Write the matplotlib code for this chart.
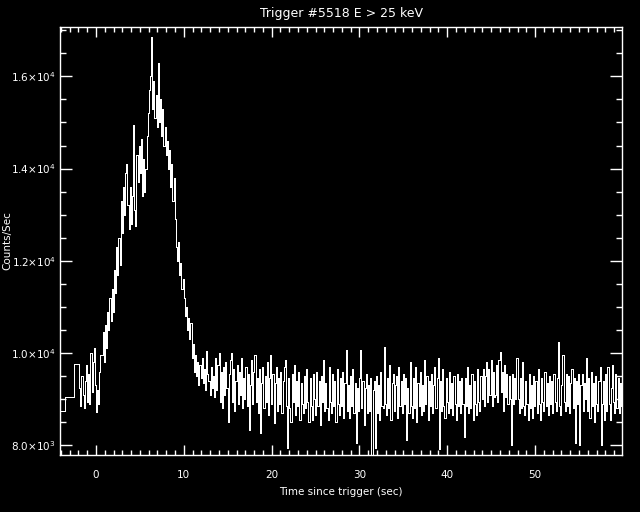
import numpy as np
import matplotlib
matplotlib.use('Agg')
import matplotlib.pyplot as plt
from matplotlib.ticker import MultipleLocator, FuncFormatter

# ----- Data -----
title = 'Trigger #5518 E > 25 keV'
x_label = 'Time since trigger (sec)'
y_label = 'Counts/Sec'

# coarse pre-trigger bins
pre_edges = [-4.10, -3.53, -2.55, -1.92]
pre_rate = [8740, 9050, 9760]

# fine bins after -1.92 s (one row = 10 bins)
bin_width = 0.128
burst_rate = [
    9250, 8850, 9500, 9100, 8800, 9400, 9750, 8950, 9550, 8900,
    10000, 9150, 9800, 10100, 9300, 8720, 9200, 8900, 9600, 9950,
    9950, 10450, 9800, 10600, 10100, 10900, 10500, 11200, 10700, 11400,
    10900, 11800, 11300, 12300, 11700, 12500, 11900, 13300, 12600, 13600,
    13000, 13900, 14100, 13200, 12700, 13600, 12800, 13400, 14950, 13100,
    12750, 14300, 13700, 14500, 13900, 14650, 13400, 14200, 13500, 14000,
    14700, 15200, 15700, 16000, 16850, 15300, 15900, 15100, 15600, 14900,
    16300, 15000, 15500, 14700, 15300, 14500, 14900, 14300, 14600, 14000,
    14400, 13600, 14100, 13300, 13800, 12900, 12300, 12000, 12400, 11700,
    11950, 11400, 11600, 11200, 10800, 11000, 10500, 10750, 10300, 10650,
    9900, 10200, 9600, 9950, 9500, 9800, 9300, 9750, 9450, 9900,
    9350, 9650, 9200, 10050, 9550, 9400, 9100, 9700, 9250, 9500,
    9050, 9900, 9200, 9750, 10000, 8950, 9600, 8800, 9700, 9100,
    9800, 9250, 8500, 9550, 9850, 10000, 8950, 9650, 8750, 9400,
    9750, 8900, 9600, 9100, 9900, 8800, 9450, 9000, 9700, 8850,
    9550, 8330, 9300, 9850, 8900, 9600, 9950, 8950, 9450, 8700,
    9650, 8270, 9350, 9700, 8800, 9500, 8950, 9800, 8650, 9450,
    9950, 8900, 9550, 8480, 9350, 9700, 8750, 9450, 8900, 9600,
    8700, 9400, 9700, 9850, 8850, 7940, 9450, 8800, 8500, 9550,
    8950, 9750, 8650, 9400, 8850, 9600, 8550, 9350, 8900, 8700,
    9500, 8800, 9650, 8950, 8500, 9450, 8850, 8550, 9550, 9000,
    8650, 9600, 8850, 9400, 8450, 9500, 8950, 9850, 8750, 9350,
    8800, 8550, 9700, 8950, 8700, 9550, 8850, 9400, 8500, 9650,
    8900, 8650, 9450, 8850, 9600, 8600, 9350, 10060, 8750, 9300,
    8600, 9500, 8850, 9650, 8700, 9350, 8050, 9250, 8750, 9450,
    10060, 8800, 9400, 8450, 9250, 9550, 8700, 9300, 8750, 9450,
    7800, 9200, 9400, 7950, 9500, 8700, 9300, 8550, 9600, 8850,
    8800, 10140, 8900, 8650, 9450, 8800, 9750, 8550, 9350, 9550,
    8750, 9300, 9500, 8600, 9700, 8850, 9400, 8700, 9550, 8900,
    9450, 8110, 9250, 8700, 9800, 8850, 8600, 9450, 8800, 9700,
    8500, 9350, 8850, 9600, 8650, 9300, 8750, 9850, 8900, 9500,
    8550, 9400, 8850, 9550, 8700, 9300, 9700, 8800, 9450, 9890,
    7930, 9400, 8750, 9650, 8850, 8600, 9450, 8950, 8700, 9600,
    8800, 9350, 8650, 9500, 8900, 8550, 9550, 8850, 9400, 8700,
    9450, 8900, 8190, 9450, 8850, 9700, 8700, 9300, 8800, 9550,
    8550, 9400, 8900, 8650, 9650, 8950, 8750, 9500, 9000, 9650,
    8850, 9500, 9800, 8950, 9650, 9100, 9850, 8850, 9600, 9050,
    9100, 9750, 8950, 9850, 10030, 9150, 9600, 8750, 9750, 9050,
    9550, 8900, 9500, 9000, 8000, 9550, 8900, 9450, 9000, 9890,
    9000, 8700, 9450, 8800, 9800, 8850, 8650, 9400, 8900, 8550,
    9550, 8800, 9300, 8600, 9500, 8850, 9400, 8700, 9650, 8900,
    8550, 9450, 8950, 8750, 9600, 8850, 9350, 8650, 9500, 8900,
    9400, 8700, 9550, 8950, 8750, 9450, 10240, 8850, 8650, 9300,
    9960, 8950, 8750, 9550, 8850, 9500, 8700, 9350, 9650, 8800,
    9450, 8050, 9400, 8900, 9550, 8000, 9300, 9550, 8750, 9350,
    9000, 9890, 8750, 9450, 8600, 9600, 8850, 9350, 8500, 9500,
    8900, 8750, 9400, 9700, 8000, 8900, 9400, 8550, 9550, 8750,
    9700, 8900, 8550, 9250, 9740, 8950, 8700, 9550, 8800, 9450,
    8700, 9350, 8850,
]

x_range = (-4.10, 59.90)
y_range = (7790, 17070)

# ----- Build bins -----
fine_edges = pre_edges[-1] + bin_width * np.arange(len(burst_rate) + 1)
edges = np.concatenate([pre_edges, fine_edges[1:]])
rate = np.array(pre_rate + burst_rate, dtype=float)


def idl_fmt(v, pos):
    exp = int(np.floor(np.log10(v)))
    mant = v / 10 ** exp
    return r'$%.1f{\times}10^{%d}$' % (mant, exp)


# ----- Plot -----
fig = plt.figure(figsize=(6.4, 5.12), dpi=100, facecolor='black')
ax = fig.add_axes([60 / 640, 57 / 512, 562 / 640, 428 / 512], facecolor='black')

ax.stairs(rate, edges, baseline=None, color='white', linewidth=0.72,
          antialiased=False)

ax.set_xlim(*x_range)
ax.set_ylim(*y_range)

ax.xaxis.set_major_locator(MultipleLocator(10))
ax.xaxis.set_minor_locator(MultipleLocator(1))
ax.yaxis.set_major_locator(MultipleLocator(2000))
ax.yaxis.set_minor_locator(MultipleLocator(500))
ax.yaxis.set_major_formatter(FuncFormatter(idl_fmt))

for sp in ax.spines.values():
    sp.set_color('white')
    sp.set_linewidth(1.0)

ax.tick_params(axis='both', which='both', direction='in', colors='white',
               top=True, right=True, width=1.0, labelsize=7.5)
ax.tick_params(axis='x', which='major', length=7, pad=11)
ax.tick_params(axis='x', which='minor', length=3.5)
ax.tick_params(axis='y', which='major', length=8.5, pad=3)
ax.tick_params(axis='y', which='minor', length=4.5)

fig.text(341 / 640, 1 - 14 / 512, title, color='white', fontsize=9,
         ha='center', va='center')
fig.text(341 / 640, 1 - 492 / 512, x_label, color='white', fontsize=7.5,
         ha='center', va='center')
fig.text(7 / 640, 1 - 241 / 512, y_label, color='white', fontsize=7.5,
         ha='center', va='center', rotation=90)

fig.savefig('out.png', dpi=100, facecolor='black')
